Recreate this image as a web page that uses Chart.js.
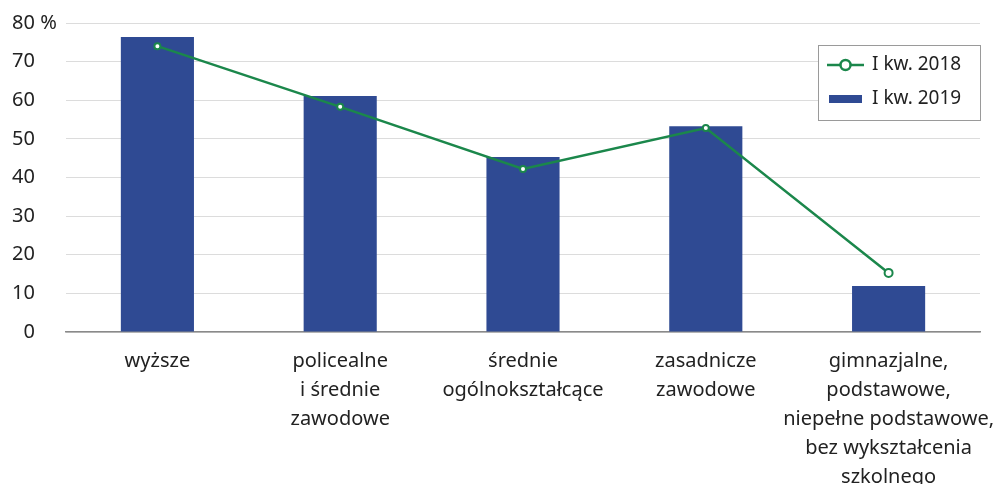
<!DOCTYPE html>
<html>
<head>
<meta charset="utf-8">
<script src="https://cdn.jsdelivr.net/npm/chart.js@4"></script>
<style>
  html, body { margin: 0; padding: 0; background: #fff; }
  #wrap { width: 1005px; height: 484px; }
</style>
</head>
<body>
<div id="wrap"><canvas id="chart" width="1005" height="484"></canvas></div>
<script>
  'use strict';

  var categories = [
    ['wyższe'],
    ['policealne', 'i średnie', 'zawodowe'],
    ['średnie', 'ogólnokształcące'],
    ['zasadnicze', 'zawodowe'],
    ['gimnazjalne,', 'podstawowe,', 'niepełne podstawowe,', 'bez wykształcenia', 'szkolnego']
  ];
  var values2018 = [74.0, 58.3, 42.2, 52.8, 15.3];
  var values2019 = [76.4, 61.1, 45.3, 53.3, 11.9];
  var seriesNames = ['I kw. 2018', 'I kw. 2019'];
  var yTicks = [0, 10, 20, 30, 40, 50, 60, 70, 80];

  var BAR_COLOR = '#2f4a93';
  var LINE_COLOR = '#1b874b';
  var FONT = '"Noto Sans", sans-serif';

  // legend box drawn inside the plot, top right
  var boxLegend = {
    id: 'boxLegend',
    afterDraw: function(chart) {
      var ctx = chart.ctx;
      var x = 818, y = 45, w = 162, h = 75;
      ctx.save();
      ctx.fillStyle = '#fff';
      ctx.strokeStyle = '#9a9a9a';
      ctx.lineWidth = 1;
      ctx.fillRect(x, y, w, h);
      ctx.strokeRect(x + 0.5, y + 0.5, w, h);

      // line entry
      ctx.strokeStyle = LINE_COLOR;
      ctx.lineWidth = 2.5;
      ctx.beginPath();
      ctx.moveTo(827, 65);
      ctx.lineTo(864, 65);
      ctx.stroke();
      ctx.fillStyle = '#fff';
      ctx.beginPath();
      ctx.arc(845.5, 65, 5, 0, Math.PI * 2);
      ctx.fill();
      ctx.stroke();

      // bar entry
      ctx.fillStyle = BAR_COLOR;
      ctx.fillRect(829, 95, 33, 8);

      ctx.fillStyle = '#222';
      ctx.font = '19px ' + FONT;
      ctx.textBaseline = 'middle';
      ctx.fillText(chart.data.datasets[0].label, 872, 65);
      ctx.fillText(chart.data.datasets[1].label, 872, 99);
      ctx.restore();
    }
  };

  // " %" after the top tick
  var percentMark = {
    id: 'percentMark',
    afterDraw: function(chart) {
      var y = chart.scales.y;
      var ctx = chart.ctx;
      ctx.save();
      ctx.fillStyle = '#222';
      ctx.font = '20px ' + FONT;
      ctx.textBaseline = 'middle';
      ctx.fillText(' %', 35, y.getPixelForValue(80));
      ctx.restore();
    }
  };

  var ctx = document.getElementById('chart').getContext('2d');
  var chart = new Chart(ctx, {
    data: {
      labels: categories,
      datasets: [{
        type: 'line',
        label: seriesNames[0],
        data: values2018,
        borderColor: LINE_COLOR,
        borderWidth: 2.5,
        pointRadius: [3, 3, 3, 3, 4],
        pointBorderWidth: 2,
        pointBackgroundColor: '#fff',
        pointBorderColor: LINE_COLOR,
        tension: 0,
        order: 0
      }, {
        type: 'bar',
        label: seriesNames[1],
        data: values2019,
        backgroundColor: BAR_COLOR,
        barPercentage: 0.4,
        categoryPercentage: 1,
        order: 1
      }]
    },
    options: {
      responsive: false,
      animation: false,
      layout: { padding: { top: 23, right: 25, left: 0, bottom: 0 } },
      plugins: {
        legend: { display: false },
        tooltip: { enabled: false }
      },
      scales: {
        x: {
          grid: { display: false },
          border: { color: '#8a8a8a', width: 1.5 },
          ticks: {
            color: '#222',
            font: { family: FONT, size: 20, lineHeight: 1.45 },
            padding: 7,
            maxRotation: 0,
            autoSkip: false
          },
          afterFit: function(scale) { scale.height = 152; }
        },
        y: {
          min: 0,
          max: 80,
          afterBuildTicks: function(scale) {
            scale.ticks = yTicks.map(function(v) { return { value: v }; });
          },
          grid: { color: '#dcdcdc', drawTicks: false },
          border: { display: false },
          ticks: {
            color: '#222',
            font: { family: FONT, size: 20 },
            padding: 31
          },
          afterFit: function(scale) {
            scale.width = 66;
            // tick padding would otherwise push the plot top down
            scale.paddingTop = 0;
            scale.paddingBottom = 0;
          }
        }
      }
    },
    plugins: [boxLegend, percentMark]
  });
</script>
</body>
</html>
